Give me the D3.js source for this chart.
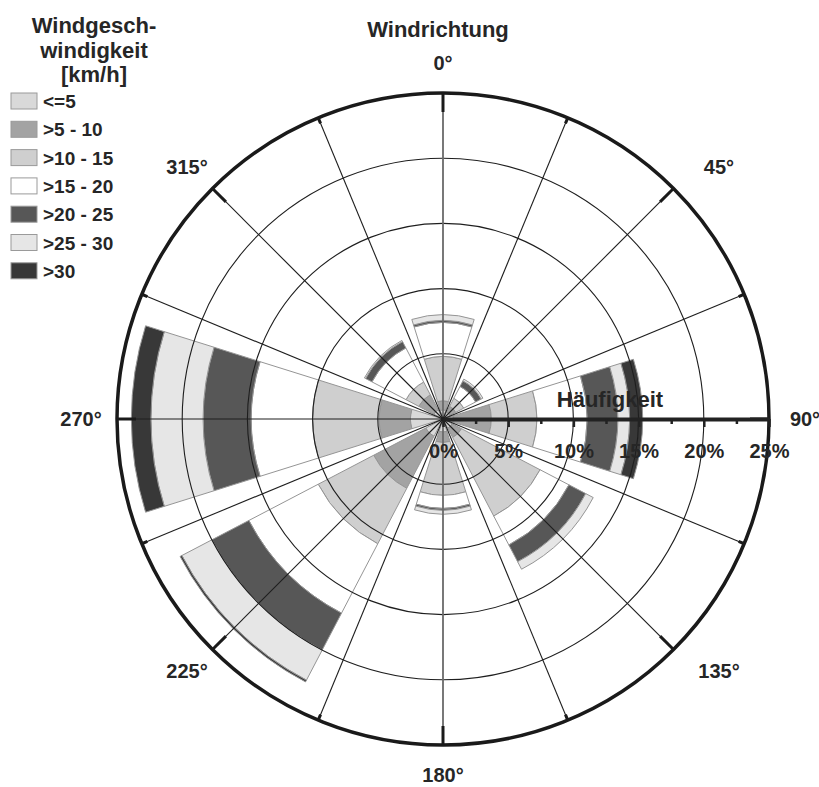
<!DOCTYPE html>
<html>
<head>
<meta charset="utf-8">
<script src="https://cdn.jsdelivr.net/npm/d3@7"></script>
<style>
  body { margin: 0; background: #ffffff; }
  svg text { font-family: "Liberation Sans", Arial, Helvetica, sans-serif; font-weight: bold; fill: #262626; }
</style>
</head>
<body>
<svg id="chart" width="819" height="787"></svg>
<script>
// Wind directions (degrees, clockwise from north) and their labels
const directions = [0, 45, 90, 135, 180, 225, 270, 315];
const directionLabels = ["0°", "45°", "90°", "135°", "180°", "225°", "270°", "315°"];

// Wind speed classes [km/h] and their fills
const speedClasses = ["<=5", ">5 - 10", ">10 - 15", ">15 - 20", ">20 - 25", ">25 - 30", ">30"];
const speedColors  = ["#d9d9d9", "#a3a3a3", "#cfcfcf", "#ffffff", "#575757", "#e6e6e6", "#383838"];

// Frequency [%] per speed class, one value per direction (0°, 45°, ... 315°)
const freqUpTo5   = [0.7, 0.6, 0.8, 0.8, 1.0, 1.5, 2.5, 0.8];
const freq5to10   = [0.7, 0.5, 2.9, 0.8, 0.8, 4.5, 2.4, 1.3];
const freq10to15  = [3.4, 0.7, 3.5, 6.8, 4.05, 4.8, 5.1, 1.1];
const freq15to20  = [2.6, 1.02, 3.85, 2.5, 1.0, 6.0, 4.7, 2.95];
const freq20to25  = [0.16, 0.48, 2.35, 1.45, 0.15, 3.2, 3.7, 0.55];
const freq25to30  = [0.44, 0.15, 0.9, 0.65, 0.3, 2.6, 4.0, 0.1];
const freqOver30  = [0, 0, 1.0, 0, 0, 0.15, 1.5, 0];

// Radial (frequency) axis ticks
const percentTicks = [0, 5, 10, 15, 20, 25];
const minorPercentTicks = [2.5, 7.5, 12.5, 17.5, 22.5];

const seriesByClass = [freqUpTo5, freq5to10, freq10to15, freq15to20, freq20to25, freq25to30, freqOver30];

const svg = d3.select("#chart");
const cx = 443, cy = 419, R = 326;
const toRad = Math.PI / 180;
const halfSector = 17.4; // half opening of each direction sector, degrees

const r = d3.scaleLinear().domain([0, 25]).range([0, R]);

// Build a table row per direction and stack the speed classes outward
const keys = speedClasses;
const table = directions.map((dir, i) => {
  const row = { dir };
  keys.forEach((k, j) => { row[k] = seriesByClass[j][i]; });
  return row;
});
const stacked = d3.stack().keys(keys)(table);

const g = svg.append("g").attr("transform", `translate(${cx},${cy})`);
const arc = d3.arc();

// Stacked sector segments
const layers = g.append("g").attr("class", "segments");
stacked.forEach((layer, k) => {
  layers.selectAll(null)
    .data(layer.filter(s => s[1] - s[0] > 0))
    .enter()
    .append("path")
    .attr("d", s => arc({
      innerRadius: r(s[0]),
      outerRadius: r(s[1]),
      startAngle: (s.data.dir - halfSector) * toRad,
      endAngle: (s.data.dir + halfSector) * toRad
    }))
    .attr("fill", speedColors[k])
    .attr("stroke", "#959595")
    .attr("stroke-width", 1);
});

// Concentric grid rings
g.append("g").selectAll("circle")
  .data(percentTicks.filter(p => p > 0 && p < 25))
  .enter().append("circle")
  .attr("r", d => r(d))
  .attr("fill", "none")
  .attr("stroke", "#1e1e1e")
  .attr("stroke-width", 1.1);

// Radial spokes every 22.5°
const spokeAngles = d3.range(0, 360, 22.5);
g.append("g").selectAll("line")
  .data(spokeAngles)
  .enter().append("line")
  .attr("x1", 0).attr("y1", 0)
  .attr("x2", a => R * Math.sin(a * toRad))
  .attr("y2", a => -R * Math.cos(a * toRad))
  .attr("stroke", a => (a % 180 === 0) ? "#6a6a6a" : "#1e1e1e")
  .attr("stroke-width", a => (a % 180 === 0) ? 1.8 : 1.1);

// Outer ring
g.append("circle")
  .attr("r", R)
  .attr("fill", "none")
  .attr("stroke", "#1a1a1a")
  .attr("stroke-width", 3.5);

// Direction ticks on the outer ring
g.append("g").selectAll("line")
  .data(spokeAngles)
  .enter().append("line")
  .attr("x1", a => R * Math.sin(a * toRad))
  .attr("y1", a => -R * Math.cos(a * toRad))
  .attr("x2", a => (R - (a % 45 === 0 ? 19 : 6)) * Math.sin(a * toRad))
  .attr("y2", a => -(R - (a % 45 === 0 ? 19 : 6)) * Math.cos(a * toRad))
  .attr("stroke", "#1a1a1a")
  .attr("stroke-width", 3);

// Frequency axis along 90°
const axis = d3.axisBottom(r)
  .tickValues(percentTicks)
  .tickSize(8)
  .tickSizeOuter(0)
  .tickPadding(17)
  .tickFormat(d => d + "%");
const axisG = g.append("g").attr("class", "freq-axis").call(axis);
axisG.select(".domain").attr("stroke", "#222").attr("stroke-width", 4);
axisG.selectAll(".tick line").attr("stroke", "#222").attr("stroke-width", 2.5);
axisG.selectAll(".tick text")
  .attr("font-size", 20)
  .attr("font-family", null)
  .attr("fill", "#262626");

const minorAxis = d3.axisBottom(r)
  .tickValues(minorPercentTicks)
  .tickSize(5)
  .tickSizeOuter(0)
  .tickFormat("");
const minorG = g.append("g").call(minorAxis);
minorG.select(".domain").remove();
minorG.selectAll(".tick line").attr("stroke", "#222").attr("stroke-width", 2.5);

svg.append("text")
  .attr("x", 610).attr("y", 407)
  .attr("text-anchor", "middle")
  .attr("font-size", 22)
  .text("Häufigkeit");

// Direction labels around the rose
const labelRx = 362, labelRy = 356;
svg.append("g").selectAll("text")
  .data(directions)
  .enter().append("text")
  .attr("x", (d) => {
    const s = Math.sin(d * toRad);
    const shift = (s > 0.5 && s < 0.99) ? 20 : 0;
    return cx + labelRx * s + shift;
  })
  .attr("y", d => cy - labelRy * Math.cos(d * toRad))
  .attr("dy", "0.35em")
  .attr("text-anchor", "middle")
  .attr("font-size", 20)
  .text((d, i) => directionLabels[i]);

svg.append("text")
  .attr("x", 438).attr("y", 37)
  .attr("text-anchor", "middle")
  .attr("font-size", 22)
  .text("Windrichtung");

// Legend
const legendTitle = ["Windgesch-", "windigkeit", "[km/h]"];
svg.append("g").selectAll("text")
  .data(legendTitle)
  .enter().append("text")
  .attr("x", 94)
  .attr("y", (d, i) => 33 + i * 24.5)
  .attr("text-anchor", "middle")
  .attr("font-size", 22)
  .text(d => d);

const legend = svg.append("g").attr("transform", "translate(11,93)");
const item = legend.selectAll("g")
  .data(speedClasses)
  .enter().append("g")
  .attr("transform", (d, i) => `translate(0,${i * 28.3})`);
item.append("rect")
  .attr("width", 26).attr("height", 16)
  .attr("fill", (d, i) => speedColors[i])
  .attr("stroke", "#9a9a9a")
  .attr("stroke-width", 1);
item.append("text")
  .attr("x", 32).attr("y", 15)
  .attr("font-size", 19)
  .text(d => d);
</script>
</body>
</html>
